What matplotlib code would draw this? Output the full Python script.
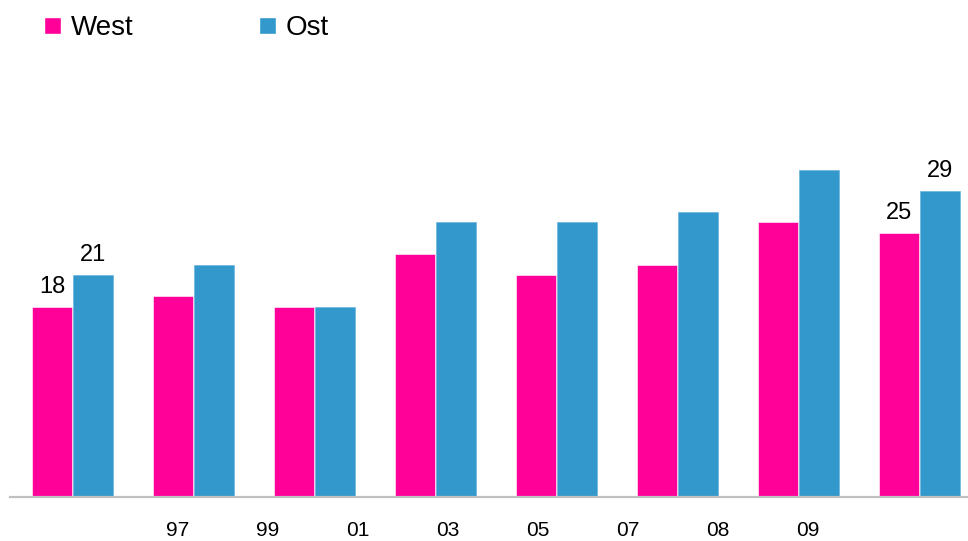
import matplotlib
matplotlib.use("Agg")
import matplotlib.pyplot as plt
from matplotlib.patches import Patch
import numpy as np

plt.rcParams['font.family'] = ['Liberation Sans', 'DejaVu Sans']

west = [18, 19, 18, 23, 21, 22, 26, 25]
ost = [21, 22, 18, 26, 26, 27, 31, 29]
tick_labels = ["97", "99", "01", "03", "05", "07", "08", "09"]
labeled_groups = [0, 7]

c_west = "#FF0099"
c_ost = "#3399CC"

W, H = 968, 541
fig = plt.figure(figsize=(W / 100, H / 100), dpi=100)
ax_left = 10 / W
ax_bottom = (H - 497) / H
ax_top_px = 100
ax = fig.add_axes([ax_left, ax_bottom, 1 - ax_left, (497 - ax_top_px) / H])

x = np.arange(len(west))
bw = 0.33
off = 0.169
ax.bar(x - off, west, width=bw, color=c_west, edgecolor="white", linewidth=0.4)
ax.bar(x + off, ost, width=bw, color=c_ost, edgecolor="#5fb0dc", linewidth=0.4)

ax.set_xlim((10 - 72.5) / 121, (968 - 72.5) / 121)
ax.set_ylim(0, (497 - ax_top_px) / 10.56)

for i in labeled_groups:
    ax.annotate(str(west[i]), (x[i] - off, west[i]), xytext=(0, 6.5), textcoords="offset points",
                ha="center", va="bottom", fontsize=17)
    ax.annotate(str(ost[i]), (x[i] + off, ost[i]), xytext=(0, 6.5), textcoords="offset points",
                ha="center", va="bottom", fontsize=17)

for s in ["top", "right", "left"]:
    ax.spines[s].set_visible(False)
ax.spines["bottom"].set_color("#c0c0c0")
ax.spines["bottom"].set_linewidth(1.6)
ax.set_yticks([])
ax.set_xticks([])

# tick labels on independent evenly spaced scale
ax2 = ax.twiny()
ax2.set_xlim((10 - 178) / 90, (968 - 178) / 90)
ax2.xaxis.set_ticks_position("bottom")
ax2.xaxis.set_label_position("bottom")
ax2.set_xticks(np.arange(len(tick_labels)))
ax2.set_xticklabels(tick_labels, fontsize=15)
ax2.tick_params(axis="x", length=0, pad=17)
for s in ax2.spines.values():
    s.set_visible(False)
ax2.set_yticks([])

handles = [Patch(facecolor=c_west, edgecolor="white"), Patch(facecolor=c_ost, edgecolor="white")]
fig.legend(handles, ["West", "Ost"], loc="upper left", bbox_to_anchor=(33 / W, 1 - 4 / H),
           ncol=2, frameon=False, fontsize=20, handlelength=0.6, handleheight=0.6,
           handletextpad=0.36, columnspacing=4.52, borderaxespad=0)

fig.savefig("out.png", dpi=100)
